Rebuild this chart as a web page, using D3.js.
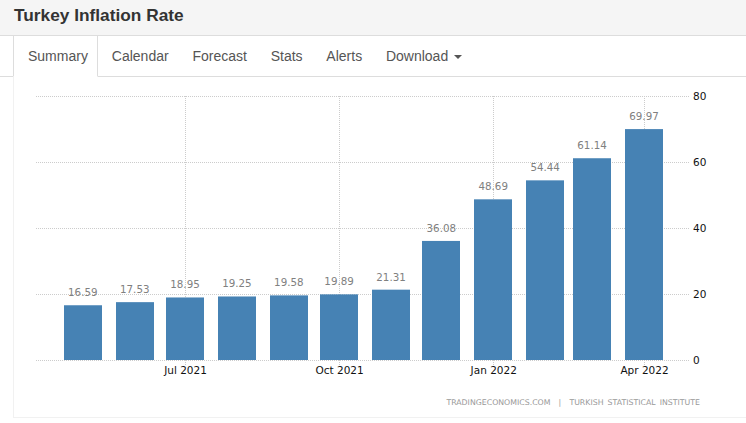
<!DOCTYPE html>
<meta charset="utf-8">
<style>
    html, body { margin: 0; padding: 0; background: #fff; overflow: hidden; }
    body { width: 746px; height: 423px; position: relative; font-family: "Liberation Sans", Arial, sans-serif; }
    #head { height: 35px; background: #f5f5f5; border-bottom: 1px solid #ddd; }
    #head h2 { margin: 0; padding: 5px 0 0 14px; font-size: 17.3px; line-height: 20px; font-weight: bold; color: #333; }
    #tabs { position: absolute; left: 0; top: 36px; width: 746px; height: 40px; border-bottom: 1px solid #ddd; display: flex; padding-left: 13px; box-sizing: content-box; }
    #tabs div { font-size: 14px; line-height: 40px; color: #555; padding: 0 11.9px; }
    #tabs div.active { border: 1px solid #ddd; border-width: 0 1px; border-bottom: 1px solid #fff; height: 40px; padding: 0 9px 0 14px; margin-right: 2px; }
    #tabs .caret { display: inline-block; border-top: 4px solid #555; border-left: 4px solid transparent; border-right: 4px solid transparent; margin-left: 6px; vertical-align: middle; }
    #panel { position: absolute; left: 13px; top: 77px; width: 800px; height: 340px; border-left: 1px solid #f1f1f1; border-bottom: 1px solid #f1f1f1; }
    #chart { position: absolute; left: 0; top: 0; }
    .grid line { stroke: #ccc; stroke-width: 1; stroke-dasharray: 1 1; shape-rendering: crispEdges; }
    .axis text { font-family: "DejaVu Sans", sans-serif; font-size: 10.5px; fill: #111; }
    .vals text { font-family: "DejaVu Sans", sans-serif; font-size: 10.3px; fill: #808080; text-anchor: middle; }
    .src { font-family: "DejaVu Sans", sans-serif; font-size: 7.8px; fill: #999; word-spacing: 1.6px; }
</style>
<body>
<div id="head"><h2>Turkey Inflation Rate</h2></div>
<div id="tabs"></div>
<div id="panel"></div>
<svg id="chart" width="746" height="423"></svg>
<script src="https://cdnjs.cloudflare.com/ajax/libs/d3/7.8.5/d3.min.js"></script>
<script>
  var months = ["2021-05-01", "2021-06-01", "2021-07-01", "2021-08-01", "2021-09-01", "2021-10-01",
    "2021-11-01", "2021-12-01", "2022-01-01", "2022-02-01", "2022-03-01", "2022-04-01"];
  var values = [16.59, 17.53, 18.95, 19.25, 19.58, 19.89, 21.31, 36.08, 48.69, 54.44, 61.14, 69.97];
  var yTicks = [0, 20, 40, 60, 80];
  var xTicks = ["2021-07-01", "2021-10-01", "2022-01-01", "2022-04-01"];
  var tabNames = ["Summary", "Calendar", "Forecast", "Stats", "Alerts", "Download"];

  var parse = d3.utcParse("%Y-%m-%d");
  var fmt = d3.utcFormat("%b %Y");

  // tabs
  d3.select("#tabs").selectAll("div")
    .data(tabNames)
    .enter()
    .append("div")
    .attr("class", function (d, i) { return i == 0 ? "active" : null; })
    .html(function (d) { return d == "Download" ? d + '<span class="caret"></span>' : d; });

  var svg = d3.select("#chart");

  var x = d3.scaleUtc()
    .domain([parse("2021-07-01"), parse("2022-04-01")])
    .range([185, 644]);
  var y = d3.scaleLinear().domain([0, 80]).range([360, 96]);
  var barWidth = 38;

  // grid
  var grid = svg.append("g").attr("class", "grid");
  grid.selectAll(".h")
    .data(yTicks)
    .enter()
    .append("line")
    .attr("x1", 36).attr("x2", 690)
    .attr("y1", function (d) { return y(d) + 0.5; })
    .attr("y2", function (d) { return y(d) + 0.5; });
  grid.selectAll(".v")
    .data(xTicks)
    .enter()
    .append("line")
    .attr("x1", function (d) { return x(parse(d)); })
    .attr("x2", function (d) { return x(parse(d)); })
    .attr("y1", y(80)).attr("y2", y(0) + 5);

  // bars
  svg.append("g").selectAll("rect")
    .data(values)
    .enter()
    .append("rect")
    .attr("x", function (d, i) { return Math.round(x(parse(months[i])) - barWidth / 2); })
    .attr("width", barWidth)
    .attr("y", function (d) { return y(d); })
    .attr("height", function (d) { return y(0) - y(d); })
    .attr("fill", "#4682b4");

  // value labels
  svg.append("g").attr("class", "vals").selectAll("text")
    .data(values)
    .enter()
    .append("text")
    .attr("x", function (d, i) { return x(parse(months[i])); })
    .attr("y", function (d) { return y(d) - 9; })
    .text(function (d) { return d3.format(".2f")(d); });

  // axes
  var yAxis = d3.axisRight(y).tickValues(yTicks).tickSize(0).tickPadding(0);
  svg.append("g").attr("class", "axis")
    .attr("transform", "translate(693,0)")
    .call(yAxis)
    .call(function (g) { g.select(".domain").remove(); });

  var xAxis = d3.axisBottom(x).tickValues(xTicks.map(parse)).tickFormat(fmt).tickSize(0).tickPadding(0);
  svg.append("g").attr("class", "axis")
    .attr("transform", "translate(0,367)")
    .call(xAxis)
    .call(function (g) { g.select(".domain").remove(); });

  svg.append("text")
    .attr("class", "src")
    .attr("x", 700).attr("y", 405)
    .attr("text-anchor", "end")
    .attr("xml:space", "preserve")
    .text("TRADINGECONOMICS.COM  |  TURKISH STATISTICAL INSTITUTE");
</script>
</body>
